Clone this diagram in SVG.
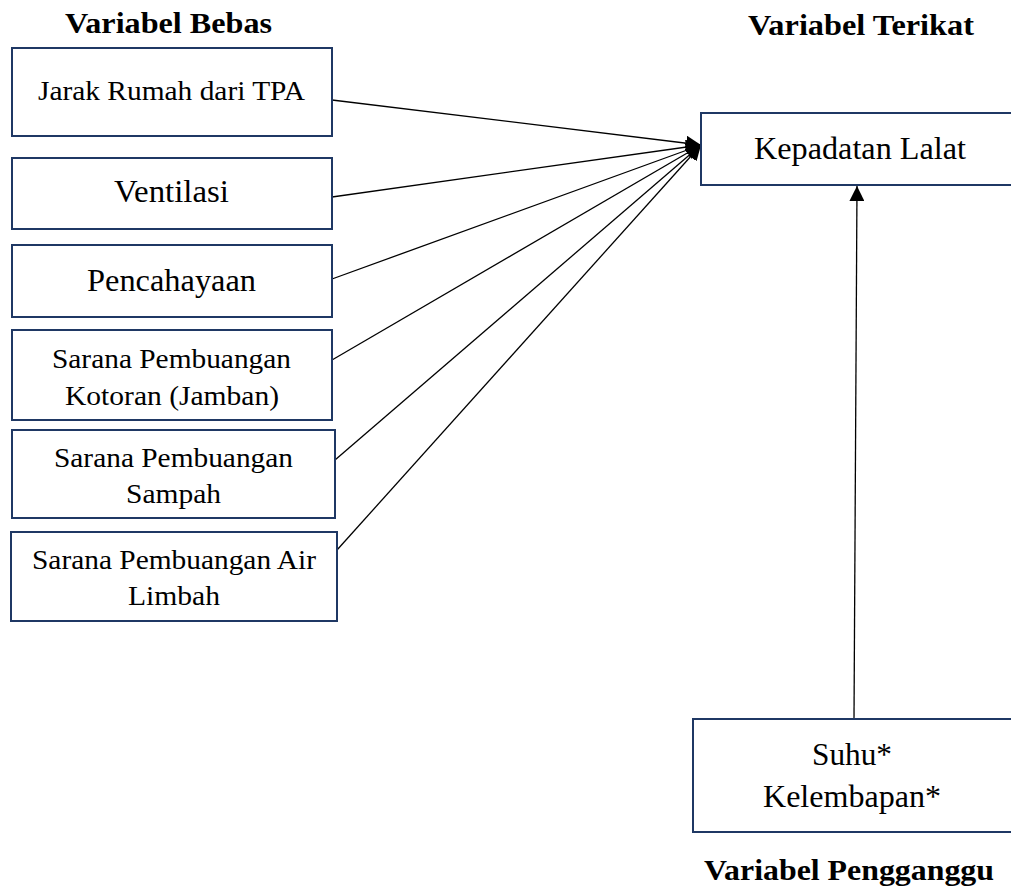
<svg xmlns="http://www.w3.org/2000/svg" width="1011" height="890" viewBox="0 0 1011 890">
<defs>
<style>
.box{fill:#fff;stroke:#1f3864;stroke-width:2}
.t{font-family:'Liberation Serif','Times New Roman','DejaVu Serif',serif;font-size:28px;fill:#000;text-anchor:middle}
.b{font-size:31px}
.h{font-family:'Liberation Serif','Times New Roman','DejaVu Serif',serif;font-size:30px;font-weight:bold;fill:#000;text-anchor:middle}
.c{stroke:#000;stroke-width:1.3;fill:none}
</style>
<marker id="ah" viewBox="0 0 10 10" refX="10" refY="5" markerWidth="15" markerHeight="15" markerUnits="userSpaceOnUse" orient="auto"><path d="M0,0L10,5L0,10z" fill="#000"/></marker>
</defs>
<text class="h" x="168.5" y="33" textLength="207" lengthAdjust="spacingAndGlyphs">Variabel Bebas</text>
<text class="h" x="861" y="35" textLength="226" lengthAdjust="spacingAndGlyphs">Variabel Terikat</text>
<text class="h" x="849" y="880" textLength="290" lengthAdjust="spacingAndGlyphs">Variabel Pengganggu</text>
<g id="connectors">
<line class="c" x1="332" y1="100" x2="701" y2="145" marker-end="url(#ah)"/>
<line class="c" x1="332" y1="197" x2="701" y2="145" marker-end="url(#ah)"/>
<line class="c" x1="332" y1="279" x2="701" y2="145" marker-end="url(#ah)"/>
<line class="c" x1="332" y1="360" x2="701" y2="145" marker-end="url(#ah)"/>
<line class="c" x1="335" y1="460" x2="701" y2="145" marker-end="url(#ah)"/>
<line class="c" x1="337" y1="550" x2="701" y2="145" marker-end="url(#ah)"/>
<line class="c" x1="854" y1="718" x2="857" y2="186" marker-end="url(#ah)"/>
</g>
<g id="n1"><rect class="box" x="12" y="48" width="320" height="88"/><text class="t" x="171.5" y="100" textLength="267" lengthAdjust="spacingAndGlyphs">Jarak Rumah dari TPA</text></g>
<g id="n2"><rect class="box" x="12" y="158" width="320" height="71"/><text class="t b" x="171.5" y="202" textLength="115" lengthAdjust="spacingAndGlyphs">Ventilasi</text></g>
<g id="n3"><rect class="box" x="12" y="245" width="320" height="72"/><text class="t b" x="171.5" y="291" textLength="169" lengthAdjust="spacingAndGlyphs">Pencahayaan</text></g>
<g id="n4"><rect class="box" x="12" y="330" width="320" height="90"/><text class="t" x="171.5" y="368" textLength="239" lengthAdjust="spacingAndGlyphs">Sarana Pembuangan</text><text class="t" x="172" y="405" textLength="214" lengthAdjust="spacingAndGlyphs">Kotoran (Jamban)</text></g>
<g id="n5"><rect class="box" x="12" y="430" width="323" height="88"/><text class="t" x="173.5" y="467" textLength="239" lengthAdjust="spacingAndGlyphs">Sarana Pembuangan</text><text class="t" x="173.5" y="503" textLength="95" lengthAdjust="spacingAndGlyphs">Sampah</text></g>
<g id="n6"><rect class="box" x="11" y="532" width="326" height="89"/><text class="t" x="174" y="569" textLength="284" lengthAdjust="spacingAndGlyphs">Sarana Pembuangan Air</text><text class="t" x="174" y="605" textLength="92" lengthAdjust="spacingAndGlyphs">Limbah</text></g>
<g id="n7"><rect class="box" x="701" y="113" width="320" height="72"/><text class="t b" x="860" y="159" textLength="212" lengthAdjust="spacingAndGlyphs">Kepadatan Lalat</text></g>
<g id="n8"><rect class="box" x="693" y="719" width="330" height="113"/><text class="t b" x="852" y="765" textLength="80" lengthAdjust="spacingAndGlyphs">Suhu*</text><text class="t b" x="852" y="807" textLength="178" lengthAdjust="spacingAndGlyphs">Kelembapan*</text></g>
</svg>
